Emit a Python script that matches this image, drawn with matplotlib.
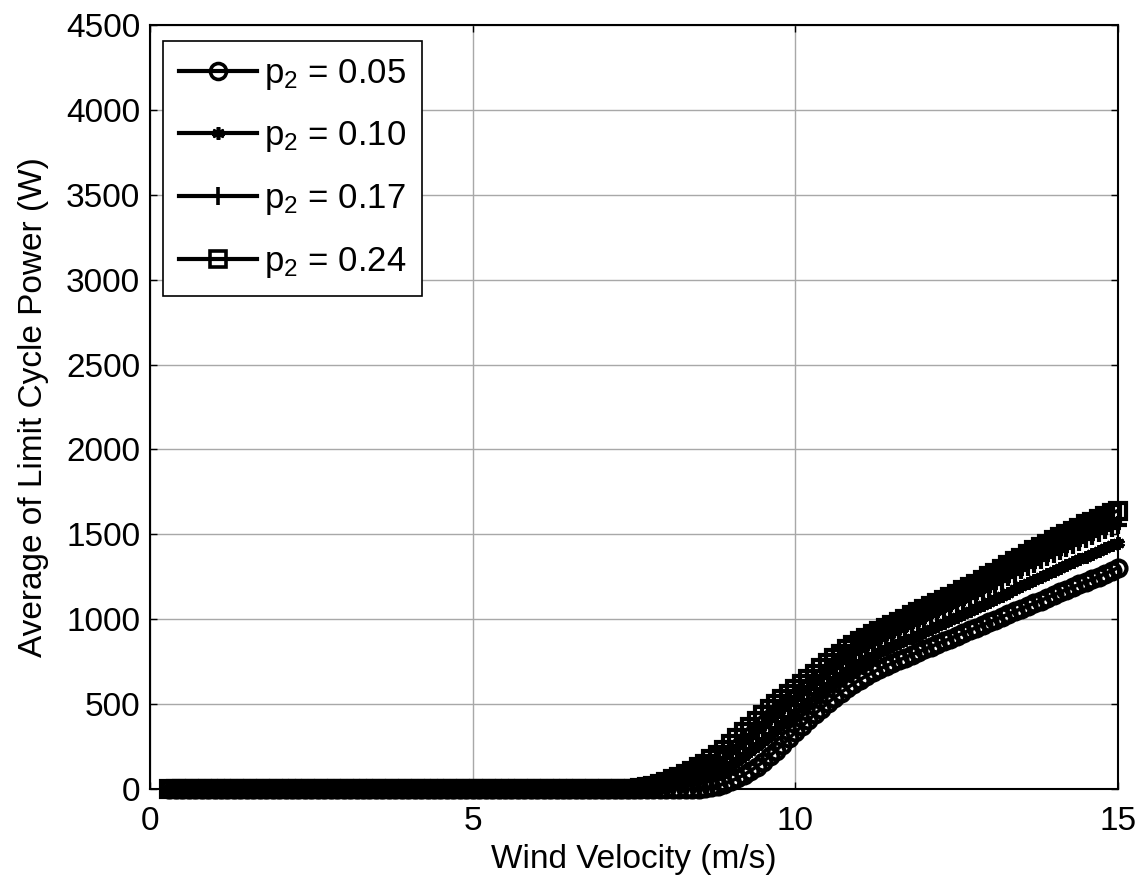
import numpy as np
import matplotlib
matplotlib.use("Agg")
import matplotlib.pyplot as plt

plt.rcParams['font.family'] = ['Liberation Sans', 'DejaVu Sans']
plt.rcParams['mathtext.fontset'] = 'custom'
plt.rcParams['mathtext.rm'] = 'Liberation Sans'
plt.rcParams['mathtext.it'] = 'Liberation Sans:italic'
plt.rcParams['mathtext.default'] = 'regular'

# Wind velocity grid (m/s)
wind = np.round(np.arange(0.3, 15.05, 0.1), 1)

# Flat (zero) part for x = 0.3 .. 7.4, then read values for x = 7.5 .. 15.0
flat = [0] * 72
p005 = flat + [0, 0, 0, 0, 0, 0, 0, 0, 0, 0,
               2, 6, 12, 20, 32, 46, 63, 83, 106, 132,
               160, 192, 226, 262, 298, 334, 370, 405, 440, 474,
               506, 537, 566, 594, 620, 644, 666, 687, 706, 724,
               741, 758, 774, 790, 806, 822, 838, 854, 870, 886,
               902, 918, 934, 950, 966, 982, 998, 1014, 1030, 1046,
               1062, 1078, 1094, 1110, 1126, 1142, 1158, 1174, 1190, 1205,
               1220, 1235, 1250, 1268, 1286, 1303]
p010 = flat + [0, 2, 5, 9, 13, 18, 25, 32, 39, 48,
               57, 69, 84, 100, 120, 142, 166, 193, 221, 251,
               282, 314, 347, 380, 413, 447, 480, 513, 546, 578,
               609, 640, 668, 696, 721, 744, 765, 786, 805, 823,
               841, 858, 875, 892, 909, 926, 943, 960, 976, 993,
               1011, 1029, 1047, 1064, 1082, 1101, 1119, 1138, 1157, 1175,
               1194, 1213, 1231, 1249, 1266, 1284, 1301, 1319, 1336, 1352,
               1369, 1385, 1400, 1418, 1435, 1451]
p017 = flat + [0, 4, 9, 15, 22, 31, 42, 54, 67, 81,
               97, 114, 134, 156, 182, 210, 239, 270, 303, 335,
               368, 400, 432, 463, 494, 526, 558, 589, 620, 651,
               682, 712, 740, 767, 793, 815, 836, 856, 875, 894,
               911, 929, 947, 964, 982, 999, 1017, 1034, 1052, 1069,
               1088, 1107, 1126, 1145, 1164, 1185, 1205, 1226, 1246, 1267,
               1287, 1308, 1327, 1346, 1365, 1384, 1403, 1421, 1439, 1456,
               1474, 1490, 1507, 1523, 1540, 1556]
p024 = flat + [0, 5, 12, 20, 30, 42, 56, 72, 89, 108,
               128, 150, 175, 202, 232, 264, 298, 333, 368, 403,
               437, 470, 500, 530, 560, 590, 620, 650, 680, 710,
               740, 770, 798, 825, 850, 872, 892, 912, 931, 950,
               968, 986, 1004, 1022, 1040, 1058, 1076, 1094, 1112, 1130,
               1150, 1170, 1190, 1210, 1230, 1252, 1274, 1296, 1318, 1340,
               1362, 1384, 1405, 1425, 1445, 1465, 1484, 1503, 1522, 1540,
               1558, 1575, 1592, 1608, 1624, 1640]

labels = ['p$_2$ = 0.05', 'p$_2$ = 0.10', 'p$_2$ = 0.17', 'p$_2$ = 0.24']
x_ticks = [0, 5, 10, 15]
y_ticks = [0, 500, 1000, 1500, 2000, 2500, 3000, 3500, 4000, 4500]

fig = plt.figure(figsize=(11.46, 8.86), dpi=100)
ax = fig.add_axes([0.1309, 0.1095, 0.8447, 0.8623])

series = [p005, p010, p017, p024]
markers = ['o', (6, 2, 0), '+', 's']
msizes = [11.5, 9, 13, 11]
for vals, lab, mk, ms in zip(series, labels, markers, msizes):
    ax.plot(wind, vals, color='black', linewidth=2.6, marker=mk, markersize=ms,
            markerfacecolor='none', markeredgecolor='black', markeredgewidth=3.0,
            label=lab, clip_on=False)

ax.set_xlim(0, 15)
ax.set_ylim(0, 4500)
ax.set_xticks(x_ticks)
ax.set_yticks(y_ticks)
ax.tick_params(direction='in', length=5, width=1, top=True, right=True,
               labelsize=24)
ax.tick_params(axis='x', pad=12)
ax.tick_params(axis='y', pad=7)
ax.grid(True, color='#a8a8a8', linewidth=1)
ax.set_axisbelow(True)
for sp in ax.spines.values():
    sp.set_linewidth(1.5)
    sp.set_color('black')

ax.set_xlabel('Wind Velocity (m/s)', fontsize=24, labelpad=5)
ax.set_ylabel('Average of Limit Cycle Power (W)', fontsize=24, labelpad=12)

leg = ax.legend(loc='upper left', bbox_to_anchor=(0.0134, 0.979), borderaxespad=0,
                fontsize=25, fancybox=False, framealpha=1, edgecolor='black',
                handlelength=2.25, handletextpad=0.2, labelspacing=0.8,
                borderpad=0.45, markerscale=1.0)
leg.get_frame().set_linewidth(1.2)
for lh in leg.get_lines():
    lh.set_linewidth(3)
    lh.set_markeredgewidth(2.6)

fig.savefig('out.png', dpi=100)
